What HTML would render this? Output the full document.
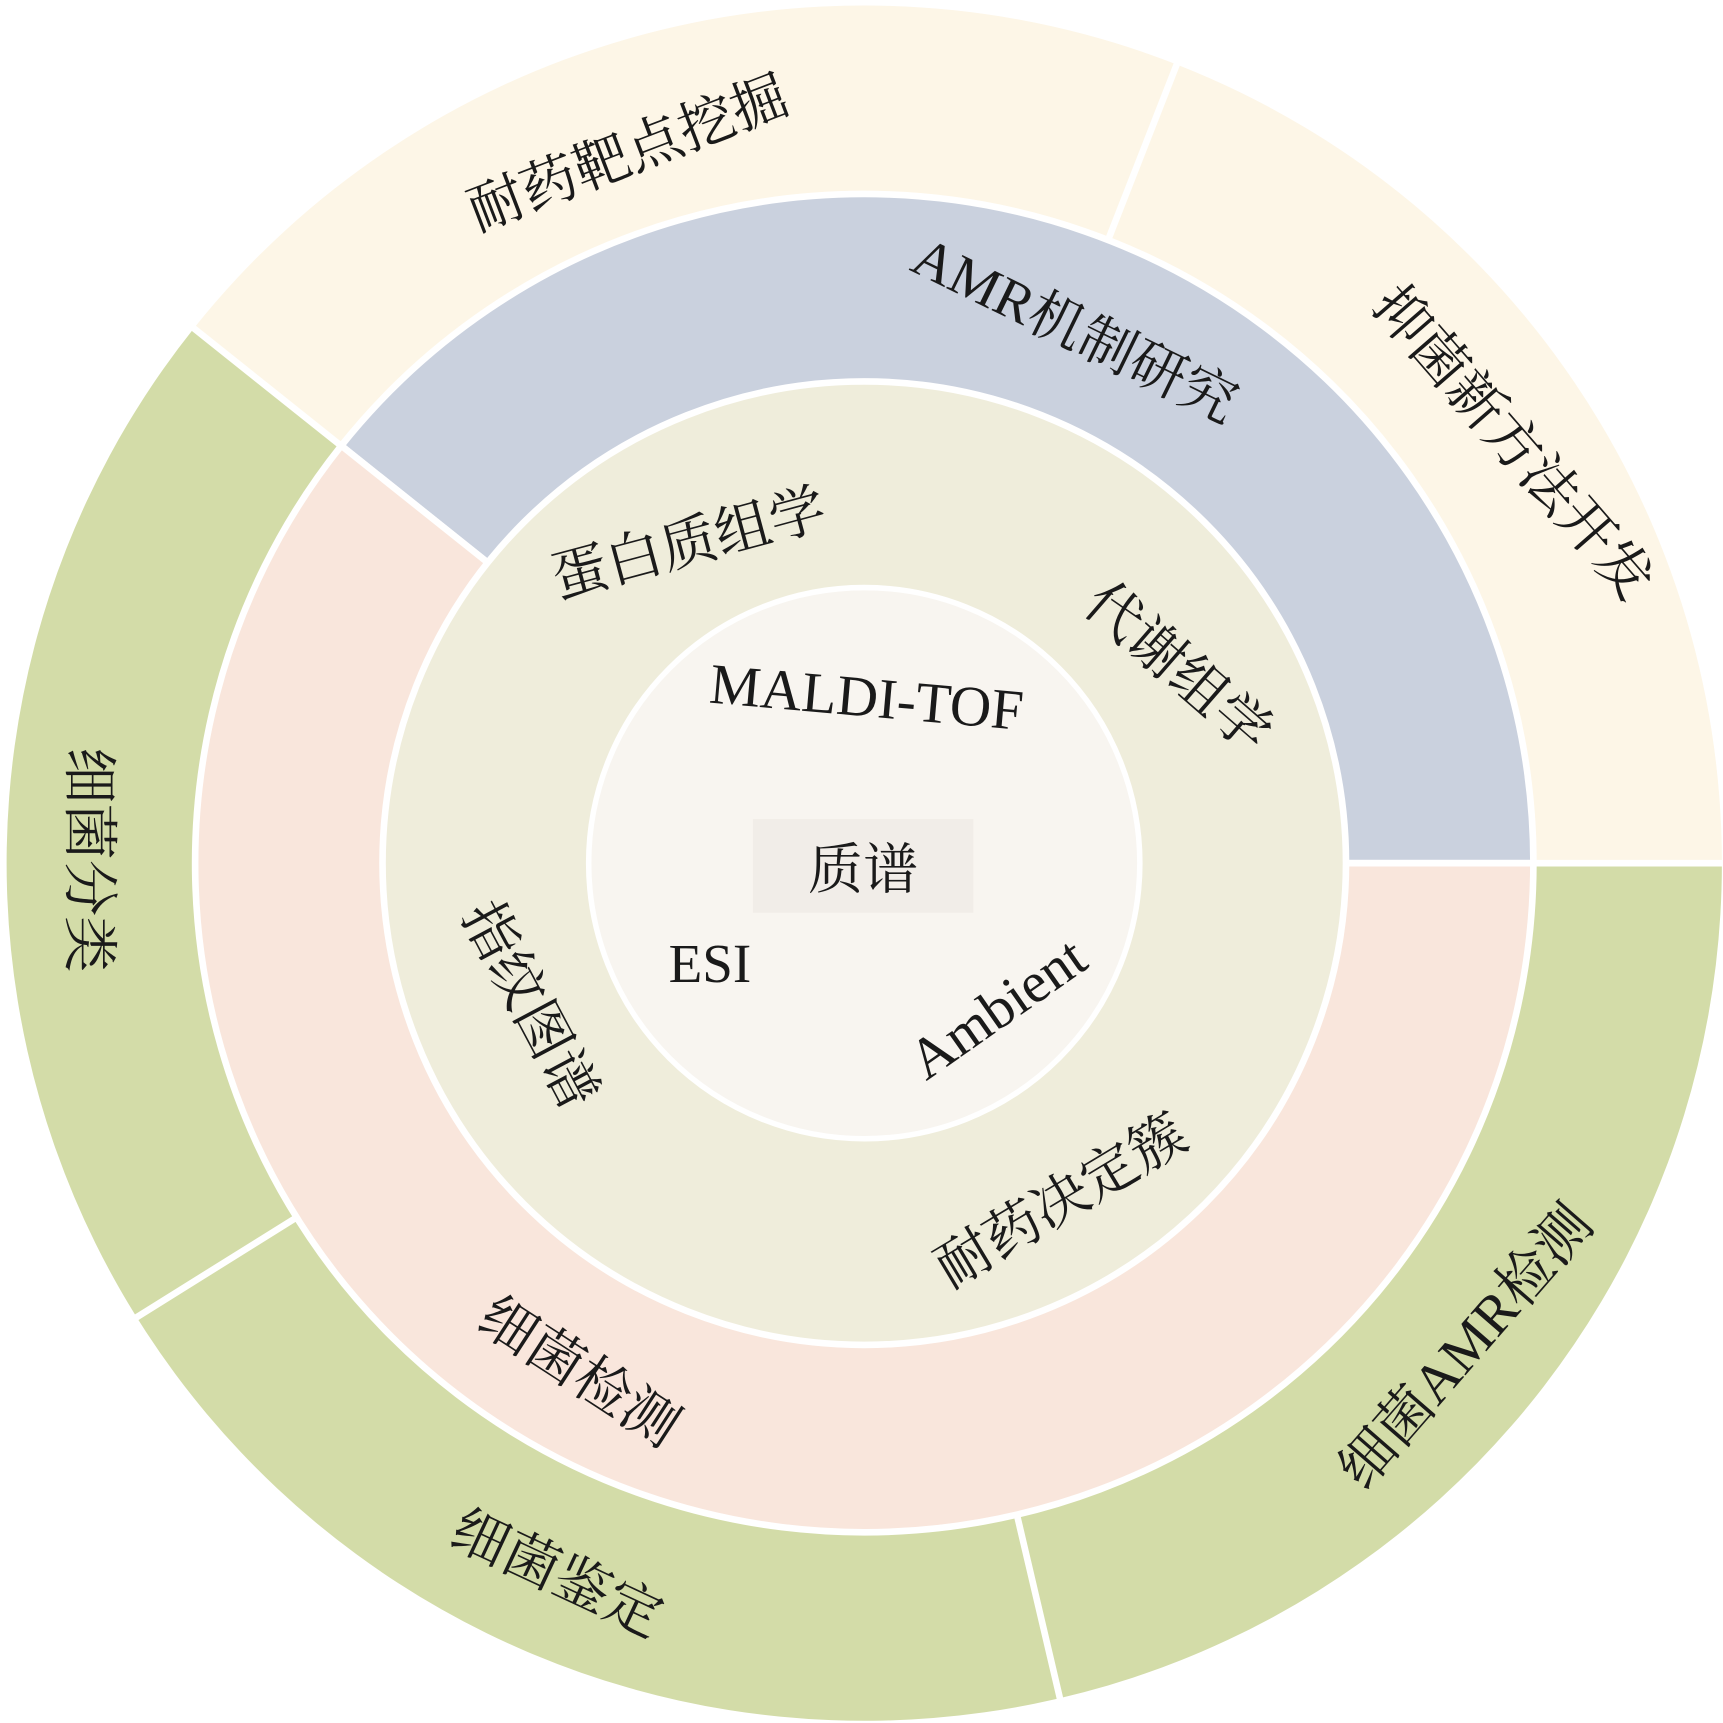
<!DOCTYPE html>
<html><head><meta charset="utf-8"><style>html,body{margin:0;padding:0;background:#fff}svg{display:block}</style></head>
<body>
<svg xmlns="http://www.w3.org/2000/svg" width="1723" height="1723" viewBox="0 0 1563 1563">
<rect width="1563" height="1563" fill="#fff"/>
<!-- outer ring -->
<path d="M784 783 L1562 783 A778 778 0 0 0 176 297.6 Z" fill="#fdf6e7"/>
<path d="M784 783 L1562 783 A778 778 0 1 1 176 297.6 Z" fill="#d3dca8"/>
<g stroke="#fff" stroke-width="6">
<line x1="784" y1="783" x2="1568" y2="783"/>
<line x1="784" y1="783" x2="1070" y2="52"/>
<line x1="784" y1="783" x2="171" y2="294"/>
<line x1="784" y1="783" x2="119" y2="1198"/>
<line x1="784" y1="783" x2="963" y2="1547"/>
</g>
<!-- middle ring -->
<path d="M784 783 L1391 783 A607 607 0 0 0 309.6 404.3 Z" fill="#cad1de" stroke="#fff" stroke-width="6"/>
<path d="M784 783 L1391 783 A607 607 0 1 1 309.6 404.3 Z" fill="#f9e6dc" stroke="#fff" stroke-width="6"/>
<!-- inner ring -->
<circle cx="784" cy="783" r="437" fill="#efeddb" stroke="#fff" stroke-width="6"/>
<circle cx="784" cy="783" r="250" fill="#f8f5f0" stroke="#fff" stroke-width="5"/>
<rect x="683" y="743" width="200" height="85" fill="#f1ede8"/>
<g font-family="'Liberation Serif','Noto Serif CJK SC',serif" fill="#1a1a1a" text-anchor="middle" dominant-baseline="central" font-size="51">
<text transform="translate(570,140) rotate(-21)">耐药靶点挖掘</text>
<text transform="translate(1372,402) rotate(49)">抑菌新方法开发</text>
<text transform="translate(975,300) rotate(26)">AMR机制研究</text>
<text transform="translate(80,780) rotate(90)">细菌分类</text>
<text transform="translate(505,1428) rotate(25)">细菌鉴定</text>
<text transform="translate(1330,1222) rotate(-49)">细菌AMR检测</text>
<text transform="translate(525,1245) rotate(33)">细菌检测</text>
<text transform="translate(625,494) rotate(-15)">蛋白质组学</text>
<text transform="translate(1068,606) rotate(41)">代谢组学</text>
<text transform="translate(480,912) rotate(62)">指纹图谱</text>
<text transform="translate(963,1090) rotate(-31)">耐药决定簇</text>
<text transform="translate(786,633) rotate(5)" font-size="52">MALDI-TOF</text>
<text x="783" y="789" font-size="50">质谱</text>
<text x="644" y="874" font-size="50">ESI</text>
<text transform="translate(905,915) rotate(-35)" font-size="52">Ambient</text>
</g>
</svg>
</body></html>
